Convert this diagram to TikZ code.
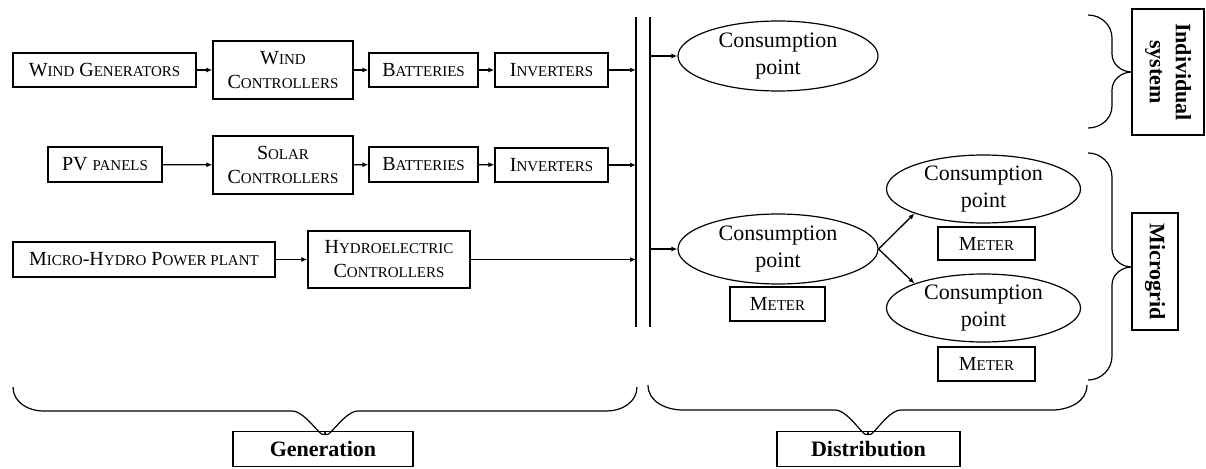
\documentclass[tikz,border=0pt]{standalone}
\usepackage{fontspec}
\setmainfont{Liberation Serif}
\usetikzlibrary{arrows.meta,shapes.geometric}
\newcommand\SC[1]{{\fontsize{15}{24}\selectfont #1}}
\tikzset{
  box/.style={draw, line width=1.3pt, rectangle, align=center, inner sep=1pt,
    font=\fontsize{20}{24}\selectfont},
  cons/.style={draw, line width=1.2pt, ellipse, minimum width=200pt, minimum height=70pt,
    align=center, inner sep=0pt, font=\fontsize{22}{27}\selectfont},
  lbl/.style={draw, line width=1.3pt, rectangle, align=center, inner sep=1pt,
    font=\bfseries\fontsize{22}{26}\selectfont},
  arr/.style={line width=1.3pt, -{Latex[length=6pt,width=5pt]}},
  ln/.style={line width=1.3pt},
  br/.style={line width=1.2pt}
}
\begin{document}
\begin{tikzpicture}[x=1pt,y=-1pt]
\useasboundingbox (0,0) rectangle (1206,468);
% row 1
\node[box, minimum width=183pt, minimum height=34pt] (wg) at (104.5,70) {W\SC{IND} G\SC{ENERATORS}};
\node[box, minimum width=140pt, minimum height=58pt] (wc) at (283,70) {W\SC{IND}\\C\SC{ONTROLLERS}};
\node[box, minimum width=109pt, minimum height=34pt] (b1) at (423.5,70) {B\SC{ATTERIES}};
\node[box, minimum width=113pt, minimum height=34pt] (i1) at (551.5,70) {I\SC{NVERTERS}};
% row 2
\node[box, minimum width=114pt, minimum height=35pt] (pv) at (105,164.5) {PV \SC{PANELS}};
\node[box, minimum width=140pt, minimum height=58pt] (sc) at (283,165) {S\SC{OLAR}\\C\SC{ONTROLLERS}};
\node[box, minimum width=109pt, minimum height=35pt] (b2) at (423.5,164.5) {B\SC{ATTERIES}};
\node[box, minimum width=113pt, minimum height=34pt] (i2) at (551.5,165) {I\SC{NVERTERS}};
% row 3
\node[box, minimum width=262pt, minimum height=35pt] (mh) at (144,259.5) {M\SC{ICRO}-H\SC{YDRO} P\SC{OWER PLANT}};
\node[box, minimum width=162pt, minimum height=57pt] (hc) at (389,259.5) {H\SC{YDROELECTRIC}\\C\SC{ONTROLLERS}};
% bus
\coordinate (busL1) at (636,70);
\coordinate (busL2) at (636,165);
\coordinate (busL3) at (636,259.5);
\coordinate (busR1) at (650,56);
\coordinate (busR2) at (650,249);
\draw[ln] (636,17) -- (636,327);
\draw[ln] (650,17) -- (650,327);
\draw[arr] (wg) -- (wc);
\draw[arr] (wc) -- (b1);
\draw[arr] (b1) -- (i1);
\draw[arr] (i1) -- (busL1);
\draw[arr] (pv) -- (sc);
\draw[arr] (sc) -- (b2);
\draw[arr] (b2) -- (i2);
\draw[arr] (i2) -- (busL2);
\draw[arr] (mh) -- (hc);
\draw[arr] (hc.east |- busL3) -- (busL3);
% consumption
\node[cons] (c1) at (778,56) {Consumption\\point};
\node[cons] (c2) at (778,249) {Consumption\\point};
\node[cons, minimum width=194pt, minimum height=68pt] (c3) at (983.5,189) {Consumption\\point};
\node[cons, minimum width=194pt, minimum height=68pt] (c4) at (983.5,308) {Consumption\\point};
\draw[arr] (busR1) -- (c1);
\draw[arr] (busR2) -- (c2);
\draw[arr] (c2.east) -- (c3.south west);
\draw[arr] (c2.east) -- (c4.north west);
\node[box, minimum width=95pt, minimum height=34pt] (m2) at (777.5,304) {M\SC{ETER}};
\node[box, minimum width=97pt, minimum height=33pt] (m3) at (986.5,243.5) {M\SC{ETER}};
\node[box, minimum width=97pt, minimum height=34pt] (m4) at (986.5,364) {M\SC{ETER}};
% right labels
\node[lbl, minimum width=126pt, minimum height=72pt, rotate=-90] (ind) at (1168,72) {Individual\\system};
\node[lbl, minimum width=117pt, minimum height=46pt, rotate=-90] (mg) at (1155,271.5) {Microgrid};
% right braces
\draw[br] (1088,15) to[out=0,in=90] (1112,38) -- (1112,54) to[out=-90,in=180] (1132,72)
  to[out=180,in=90] (1112,90) -- (1112,106) to[out=-90,in=0] (1088,128);
\draw[br] (1088,153) to[out=0,in=90] (1112,177) -- (1112,249) to[out=-90,in=180] (1132,267)
  to[out=180,in=90] (1112,285) -- (1112,356) to[out=-90,in=0] (1088,380);
% bottom braces
\draw[br] (13,387) to[out=-90,in=180] (43,411) -- (292,411) to[out=0,in=-90] (325,431)
  to[out=-90,in=180] (358,411) -- (607,411) to[out=0,in=-90] (637,387);
\draw[br] (648,385) to[out=-90,in=180] (683,410) -- (835,410) to[out=0,in=-90] (868,431)
  to[out=-90,in=180] (901,410) -- (1052,410) to[out=0,in=-90] (1087,385);
\node[lbl, minimum width=180pt, minimum height=35pt, anchor=north] (gen) at (323,431) {Generation};
\node[lbl, minimum width=183pt, minimum height=35pt, anchor=north] (dis) at (868.5,431) {Distribution};
\end{tikzpicture}
\end{document}
